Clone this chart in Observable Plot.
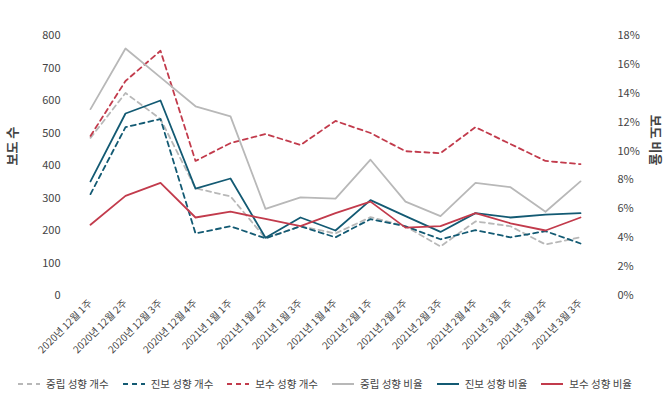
<!DOCTYPE html>
<html><head><meta charset="utf-8">
<script src="https://cdn.jsdelivr.net/npm/d3@7"></script>
<script src="https://cdn.jsdelivr.net/npm/@observablehq/plot@0.6"></script>
<style>
body{margin:0;background:#fff;font-family:"Noto Sans CJK KR","Noto Sans",sans-serif;}
#legend{display:flex;gap:0;margin-left:18px;font-size:10.5px;color:#444;margin-top:4px}
#legend span{display:flex;align-items:center;margin-right:14px}
#legend svg{margin-right:6px}
</style></head><body>
<div id="chart"></div>
<div id="legend"></div>
<script>
const weeks=["2020년 12월 1주","2020년 12월 2주","2020년 12월 3주","2020년 12월 4주","2021년 1월 1주","2021년 1월 2주","2021년 1월 3주","2021년 1월 4주","2021년 2월 1주","2021년 2월 2주","2021년 2월 3주","2021년 2월 4주","2021년 3월 1주","2021년 3월 2주","2021년 3월 3주"];
const neutralCount=[485,623,543,330,305,176,213,191,241,213,151,228,213,157,179];
const progCount=[312,518,543,191,213,176,213,179,235,213,173,201,179,198,160];
const consCount=[491,660,753,414,469,497,463,537,500,444,438,518,466,414,404];
const neutralPct=[12.9,17.1,15.1,13.1,12.4,6.0,6.8,6.7,9.4,6.5,5.5,7.8,7.5,5.8,7.9];
const progPct=[7.9,12.6,13.5,7.4,8.1,4.0,5.4,4.5,6.6,5.5,4.4,5.7,5.4,5.6,5.7];
const consPct=[4.9,6.9,7.8,5.4,5.8,5.3,4.8,5.7,6.5,4.7,4.8,5.7,5.0,4.5,5.4];
const series=[
 {name:"중립 성향 개수",vals:neutralCount,pct:false,color:"#b8b8b8",dash:"5,4"},
 {name:"진보 성향 개수",vals:progCount,pct:false,color:"#135a73",dash:"5,4"},
 {name:"보수 성향 개수",vals:consCount,pct:false,color:"#c23b4c",dash:"5,4"},
 {name:"중립 성향 비율",vals:neutralPct,pct:true,color:"#b8b8b8",dash:null},
 {name:"진보 성향 비율",vals:progPct,pct:true,color:"#135a73",dash:null},
 {name:"보수 성향 비율",vals:consPct,pct:true,color:"#c23b4c",dash:null}];
const k=800/18;
const marks=[];
for(const s of series){
  const data=weeks.map((w,i)=>({w,v:s.pct?s.vals[i]*k:s.vals[i]}));
  marks.push(Plot.line(data,{x:"w",y:"v",stroke:s.color,strokeWidth:1.8,strokeDasharray:s.dash}));
}
const chart=Plot.plot({
 width:670,height:372,marginLeft:72,marginRight:73,marginTop:35,marginBottom:77,
 style:{fontFamily:"Noto Sans CJK KR, sans-serif",fontSize:"11px",color:"#444"},
 x:{type:"point",domain:weeks,label:null},
 y:{domain:[0,800],label:null},
 marks:[
  Plot.axisX({tickRotate:-45,tickSize:0,tickPadding:6,fontSize:10,label:null}),
  Plot.axisY({ticks:d3.range(0,801,100),tickSize:0,tickPadding:12,label:null}),
  Plot.axisY({anchor:"right",ticks:d3.range(0,19,2).map(v=>v*k),tickFormat:d=>Math.round(d/k)+"%",tickSize:0,tickPadding:20,label:null}),
  ...marks,
  Plot.text(["보도 수"],{frameAnchor:"left",dx:-60,rotate:-90,fontWeight:"bold",fontSize:13}),
  Plot.text(["보도 비율"],{frameAnchor:"right",dx:58,rotate:90,fontWeight:"bold",fontSize:13})
 ]});
document.getElementById("chart").append(chart);
const lg=document.getElementById("legend");
for(const s of series){
  const sp=document.createElement("span");
  sp.innerHTML=`<svg width="22" height="6"><line x1="0" y1="3" x2="22" y2="3" stroke="${s.color}" stroke-width="2" ${s.dash?'stroke-dasharray="5,4"':''}/></svg>${s.name}`;
  lg.append(sp);
}
</script></body></html>
